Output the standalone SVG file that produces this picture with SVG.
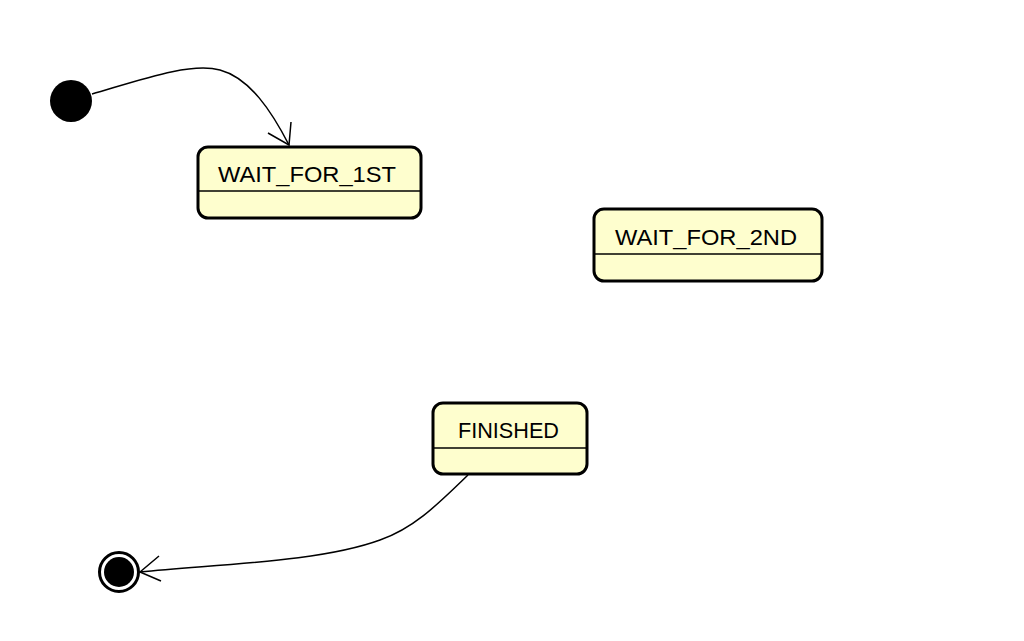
<svg xmlns="http://www.w3.org/2000/svg" width="1024" height="641" viewBox="0 0 1024 641">
<style>
.st{fill:#FEFECE;stroke:#000;stroke-width:3}
.dv{stroke:#000;stroke-width:1.5}
.lb{font-family:"Liberation Sans",Arial,sans-serif;font-size:22px;fill:#000}
.cn{fill:none;stroke:#000;stroke-width:1.5}
</style>
<rect width="1024" height="641" fill="#fff"/>
<g id="start"><circle cx="71" cy="101" r="21" fill="#000"/></g>
<g id="WAIT_FOR_1ST">
<rect class="st" x="198" y="147" width="223" height="71" rx="10"/>
<line class="dv" x1="198" y1="191" x2="421" y2="191"/>
<text class="lb" x="218" y="181.5" textLength="178" lengthAdjust="spacingAndGlyphs">WAIT_FOR_1ST</text>
</g>
<g id="WAIT_FOR_2ND">
<rect class="st" x="594" y="209" width="228" height="72" rx="10"/>
<line class="dv" x1="594" y1="254" x2="822" y2="254"/>
<text class="lb" x="615" y="245" textLength="182" lengthAdjust="spacingAndGlyphs">WAIT_FOR_2ND</text>
</g>
<g id="FINISHED">
<rect class="st" x="433" y="403" width="154" height="71" rx="10"/>
<line class="dv" x1="433" y1="448" x2="587" y2="448"/>
<text class="lb" x="458" y="438.3" textLength="101" lengthAdjust="spacingAndGlyphs">FINISHED</text>
</g>
<g id="end">
<circle cx="119" cy="572" r="19.5" fill="#fff" stroke="#000" stroke-width="3"/>
<circle cx="119" cy="572" r="15" fill="#000"/>
</g>
<g id="connectors">
<path class="cn" d="M92,94 C140,80 190,62 220,70 C250,78 272,112 289,145"/>
<path class="cn" d="M268,133 L289,145 L291,122"/>
<path class="cn" d="M468,475 C440,502 415,528 380,540 C320,562 220,564 140,572"/>
<path class="cn" d="M159,556 L140,572 L161,581"/>
</g>
</svg>
